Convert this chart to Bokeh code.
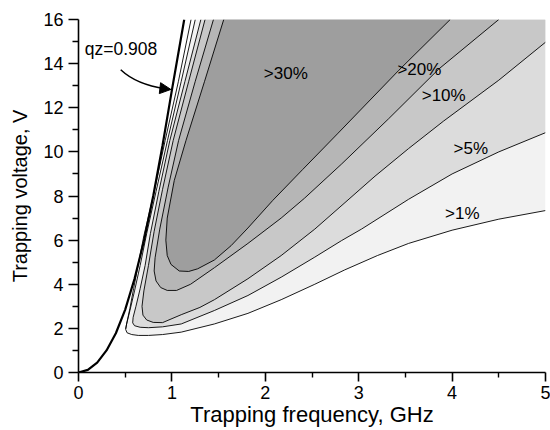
from bokeh.plotting import figure
from bokeh.models import Range1d, FixedTicker, Label, Arrow, NormalHead
from bokeh.embed import file_html
from bokeh.resources import INLINE

# ---- data (frequency GHz, voltage V) ----
qz_f = [0.0, 0.1, 0.2, 0.3, 0.4, 0.5, 0.6, 0.7, 0.8, 0.9, 1.0, 1.132]
qz_v = [0.0, 0.12, 0.45, 1.0, 1.78, 2.85, 4.25, 5.95, 8.0, 10.3, 12.8, 16.0]

edge_f = [1.205, 1.07, 0.928, 0.80, 0.70, 0.64, 0.59, 0.55, 0.52, 0.505]
edge_v = [16.0, 13.2, 10.52, 8.0, 6.2, 4.9, 3.8, 2.9, 2.3, 1.98]

c1_f = [1.25, 1.10, 0.953, 0.83, 0.73, 0.66, 0.60, 0.55, 0.515, 0.505, 0.52, 0.57, 0.64,
        0.75, 0.9, 1.1, 1.455, 1.814, 2.17, 2.53, 2.85, 3.2, 3.534, 4.0, 4.5, 5.0]
c1_v = [16.0, 13.2, 10.52, 8.2, 6.3, 4.85, 3.7, 2.8, 2.2, 1.95, 1.8, 1.72, 1.68,
        1.68, 1.72, 1.83, 2.2, 2.68, 3.3, 4.0, 4.65, 5.3, 5.85, 6.45, 6.95, 7.34]

c5_f = [1.31, 1.14, 0.978, 0.86, 0.77, 0.713, 0.66, 0.615, 0.585, 0.58, 0.60, 0.66, 0.75,
        0.9, 1.1, 1.455, 1.814, 2.17, 2.53, 2.817, 3.03, 3.534, 4.0, 4.5, 5.0]
c5_v = [16.0, 13.2, 10.52, 8.2, 6.3, 4.85, 3.8, 3.0, 2.5, 2.25, 2.12, 2.05, 2.03,
        2.07, 2.2, 2.81, 3.49, 4.32, 5.23, 5.98, 6.5, 7.85, 9.0, 10.0, 10.87]

c10_f = [1.355, 1.18, 1.014, 0.90, 0.81, 0.749, 0.70, 0.68, 0.69, 0.73, 0.80, 0.9, 1.1,
         1.3, 1.455, 1.814, 2.17, 2.53, 2.853, 3.175, 3.534, 3.91, 4.5, 5.0]
c10_v = [16.0, 13.2, 10.52, 8.3, 6.4, 4.85, 3.7, 3.0, 2.6, 2.38, 2.27, 2.26, 2.62,
         2.95, 3.3, 4.25, 5.3, 6.5, 7.7, 8.9, 10.15, 11.4, 13.25, 14.97]

c20_f = [1.445, 1.25, 1.072, 0.96, 0.87, 0.82, 0.81, 0.83, 0.88, 0.95, 1.05, 1.2, 1.455,
         1.814, 2.17, 2.42, 2.817, 3.32, 3.856, 4.5]
c20_v = [16.0, 13.2, 10.52, 8.4, 6.5, 5.2, 4.6, 4.15, 3.85, 3.72, 3.72, 4.0, 4.75,
         5.85, 7.0, 7.9, 9.45, 11.5, 13.75, 16.0]

c30_f = [1.555, 1.35, 1.151, 1.025, 0.95, 0.935, 0.95, 0.99, 1.079, 1.18, 1.276, 1.455,
         1.634, 1.814, 2.08, 2.4, 2.78, 3.43, 3.98]
c30_v = [16.0, 13.2, 10.52, 8.7, 7.0, 6.0, 5.3, 4.9, 4.6, 4.58, 4.7, 5.1,
         5.75, 6.55, 7.8, 9.2, 10.85, 13.7, 16.0]

levels = [">1%", ">5%", ">10%", ">20%", ">30%"]
fills = ["#f2f2f2", "#dcdcdc", "#c8c8c8", "#b6b6b6", "#9e9e9e"]
label_f = [4.11, 4.20, 3.91, 3.65, 2.22]
label_v = [7.21, 10.14, 12.56, 13.75, 13.55]

qz_text = "qz=0.908"
qz_text_f, qz_text_v = 0.455, 14.66
arrow_f = [0.452, 0.62, 0.989]
arrow_v = [13.72, 13.05, 12.83]

x_ticks = [0, 1, 2, 3, 4, 5]
x_minor = [0.5, 1.5, 2.5, 3.5, 4.5]
y_ticks = [0, 2, 4, 6, 8, 10, 12, 14, 16]
y_minor = [1, 3, 5, 7, 9, 11, 13, 15]

FONT = "Liberation Sans"

p = figure(width=550, height=430, output_backend="svg", toolbar_location=None,
           x_range=Range1d(0, 5), y_range=Range1d(0, 16),
           min_border_left=78, min_border_right=5, min_border_top=19,
           min_border_bottom=58)
p.background_fill_color = "white"
p.border_fill_color = "white"
p.outline_line_color = None
p.grid.visible = False

contours = [(c1_f, c1_v), (c5_f, c5_v), (c10_f, c10_v), (c20_f, c20_v), (c30_f, c30_v)]
for (cf, cv), col in zip(contours, fills):
    xs = list(cf)
    ys = list(cv)
    if ys[-1] < 16:
        xs.append(5.0)
        ys.append(16.0)
    p.patch(xs, ys, fill_color=col, line_color=None)

for cf, cv in contours:
    p.line(cf, cv, line_color="black", line_width=0.9)
p.line(edge_f, edge_v, line_color="black", line_width=0.9)
p.line(qz_f, qz_v, line_color="black", line_width=2.2)

for t, lf, lv in zip(levels, label_f, label_v):
    p.add_layout(Label(x=lf, y=lv, text=t, text_align="center", text_baseline="middle",
                       text_font=FONT, text_font_size="17px", text_color="black"))

p.add_layout(Label(x=qz_text_f, y=qz_text_v, text=qz_text, text_align="center",
                   text_baseline="middle", text_font=FONT, text_font_size="17.5px",
                   text_color="black"))
p.quadratic(x0=[arrow_f[0]], y0=[arrow_v[0]], x1=[arrow_f[2] - 0.06], y1=[arrow_v[2] + 0.03],
            cx=[arrow_f[1]], cy=[arrow_v[1]], line_color="black", line_width=1.5)
p.add_layout(Arrow(end=NormalHead(size=11, fill_color="black", line_color="black"),
                   x_start=arrow_f[2] - 0.07, y_start=arrow_v[2] + 0.035,
                   x_end=arrow_f[2], y_end=arrow_v[2], line_width=1.5, line_color="black"))

for ax in (p.xaxis[0], p.yaxis[0]):
    ax.axis_line_width = 1.6
    ax.major_tick_line_width = 1.6
    ax.minor_tick_line_width = 1.4
    ax.major_tick_in = 0
    ax.minor_tick_in = 0
    ax.major_label_text_font = FONT
    ax.major_label_text_font_size = "18px"
    ax.major_label_text_color = "black"
    ax.axis_label_text_font = FONT
    ax.axis_label_text_font_style = "normal"
    ax.axis_label_text_color = "black"

p.xaxis.major_tick_out = 9
p.xaxis.minor_tick_out = 5
p.yaxis.major_tick_out = 10
p.yaxis.minor_tick_out = 6
p.xaxis.major_label_standoff = 4
p.yaxis.major_label_standoff = 5
p.xaxis.axis_label_text_font_size = "22px"
p.yaxis.axis_label_text_font_size = "20px"

p.xaxis.ticker = FixedTicker(ticks=x_ticks, minor_ticks=x_minor)
p.yaxis.ticker = FixedTicker(ticks=y_ticks, minor_ticks=y_minor)
p.xaxis.axis_label = "Trapping frequency, GHz"
p.yaxis.axis_label = "Trapping voltage, V"
p.xaxis.axis_label_standoff = 0
p.yaxis.axis_label_standoff = 9

open("out.html", "w").write(file_html(p, INLINE))
